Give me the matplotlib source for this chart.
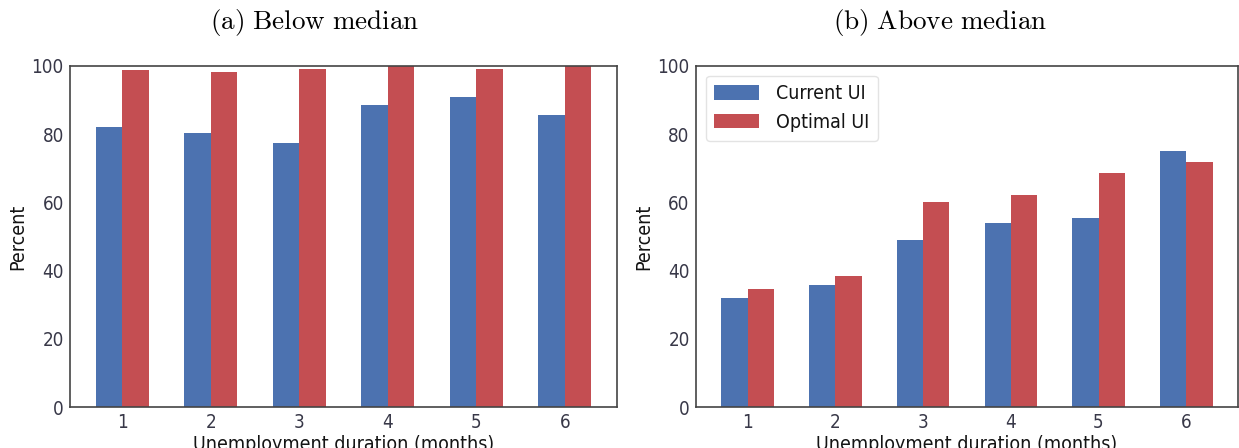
import numpy as np
import matplotlib
matplotlib.use("Agg")
import matplotlib.pyplot as plt

# data
months = [1, 2, 3, 4, 5, 6]
below_current = [82.1, 80.4, 77.4, 88.6, 90.9, 85.6]
below_optimal = [98.8, 98.2, 99.1, 100.0, 99.1, 100.0]
above_current = [32.0, 35.8, 49.0, 54.0, 55.5, 75.1]
above_optimal = [34.7, 38.5, 60.2, 62.2, 68.7, 71.9]
titles = ["(a) Below median", "(b) Above median"]

plt.rcParams['font.family'] = ['DejaVu Sans']
plt.rcParams['font.stretch'] = 'condensed'
plt.rcParams['mathtext.fontset'] = 'cm'

blue = '#4C72B0'
red = '#C44E52'
w = 0.3

fig = plt.figure(figsize=(12.39, 4.48), dpi=100)
ax1 = fig.add_axes([0.0565, 0.0915, 0.4415, 0.7615])
ax2 = fig.add_axes([0.5617, 0.0915, 0.4375, 0.7615])

def draw(ax, cur, opt):
    x = np.array(months)
    ax.bar(x - w / 2, cur, w, color=blue, label='Current UI')
    ax.bar(x + w / 2, opt, w, color=red, label='Optimal UI')
    ax.set_xlim(0.41, 6.59)
    ax.set_ylim(0, 100)
    ax.set_xticks(months)
    ax.set_yticks([0, 20, 40, 60, 80, 100])
    ax.tick_params(labelsize=13.5, colors='#383848', length=0, pad=4.5)
    for s in ax.spines.values():
        s.set_color('#444444')
        s.set_linewidth(1.2)
    ax.set_ylabel('Percent', fontsize=14, color='#141414', labelpad=3)
    ax.set_xlabel('Unemployment duration (months)', fontsize=14, color='#141414', labelpad=2)

draw(ax1, below_current, below_optimal)
draw(ax2, above_current, above_optimal)

# captions sit over each half of the figure, not centred on the axes
for xpos, title in zip([315 / 1239, 940 / 1239], titles):
    t = title.replace(' ', r'\ ')
    fig.text(xpos, 1 - 22 / 448, r'$\mathrm{' + t + '}$', fontsize=19.5,
             ha='center', va='center')

leg = ax2.legend(loc='upper left', fontsize=14, frameon=True, borderpad=0.45,
                 handlelength=2.3, handleheight=0.75, handletextpad=0.85,
                 labelspacing=0.5, fancybox=True, borderaxespad=0.5)
leg.get_frame().set_edgecolor('#dddddd')
for t in leg.get_texts():
    t.set_color('#141414')

fig.savefig('out.png', dpi=100)
